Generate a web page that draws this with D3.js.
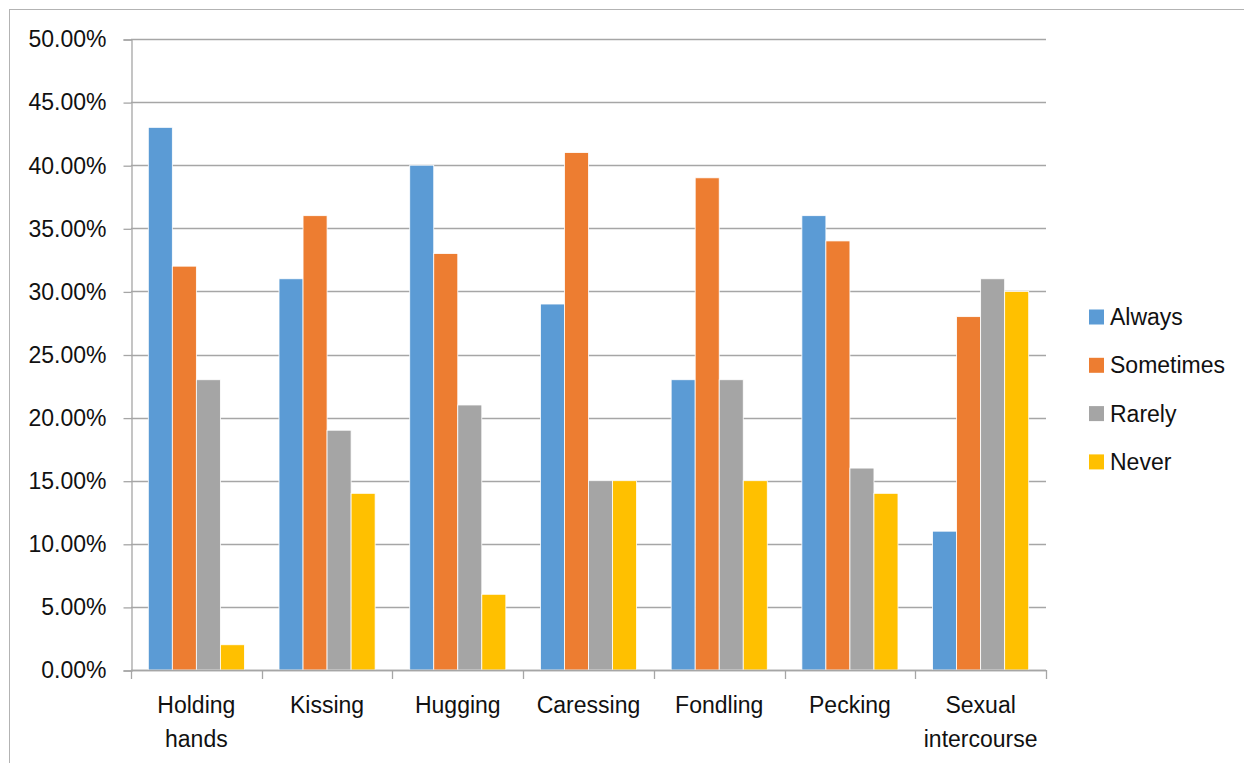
<!DOCTYPE html>
<html>
<head>
<meta charset="utf-8">
<script src="https://cdn.jsdelivr.net/npm/d3@7"></script>
<style>
  body { margin: 0; background: #fff; }
  text { font-family: "Liberation Sans", Arial, sans-serif; fill: #111; }
</style>
</head>
<body>
<svg id="chart"></svg>
<script>
const categories = ["Holding hands", "Kissing", "Hugging", "Caressing", "Fondling", "Pecking", "Sexual intercourse"];
const seriesNames = ["Always", "Sometimes", "Rarely", "Never"];
const always    = [0.43, 0.31, 0.40, 0.29, 0.23, 0.36, 0.11];
const sometimes = [0.32, 0.36, 0.33, 0.41, 0.39, 0.34, 0.28];
const rarely    = [0.23, 0.19, 0.21, 0.15, 0.23, 0.16, 0.31];
const never     = [0.02, 0.14, 0.06, 0.15, 0.15, 0.14, 0.30];
const yTicks = [0, 0.05, 0.10, 0.15, 0.20, 0.25, 0.30, 0.35, 0.40, 0.45, 0.50];
const colors = ["#5B9BD5", "#ED7D31", "#A5A5A5", "#FFC000"];

const seriesValues = [always, sometimes, rarely, never];
const width = 1244, height = 763;
const plot = {left: 131, right: 1046, top: 39, bottom: 670};

const svg = d3.select("#chart").attr("width", width).attr("height", height);

// outer chart border (only top/left are visible in the frame)
svg.append("rect")
    .attr("x", 9.5).attr("y", 9.5)
    .attr("width", 1300).attr("height", 800)
    .attr("fill", "none").attr("stroke", "#b3b3b3");

const x = d3.scaleBand().domain(categories).range([plot.left, plot.right]);
const x1 = d3.scaleBand().domain(seriesNames).range([0, x.bandwidth()]).paddingOuter(0.72);
const y = d3.scaleLinear().domain([0, 0.5]).range([plot.bottom, plot.top]);

// gridlines
svg.append("g").selectAll("line")
    .data(yTicks)
    .enter().append("line")
    .attr("x1", plot.left).attr("x2", plot.right)
    .attr("y1", d => Math.round(y(d)) + 0.5).attr("y2", d => Math.round(y(d)) + 0.5)
    .attr("stroke", "#a6a6a6").attr("stroke-width", 1.3);

// y axis
const yAxis = svg.append("g")
    .attr("transform", "translate(" + (plot.left + 0.5) + ",0.5)")
    .call(d3.axisLeft(y).tickValues(yTicks).tickFormat(d3.format(".2%")).tickSize(8).tickPadding(17));
yAxis.select(".domain").attr("stroke", "#a6a6a6").attr("stroke-width", 1.3);
yAxis.selectAll(".tick line").attr("stroke", "#a6a6a6").attr("stroke-width", 1.3);
yAxis.selectAll("text").style("font-size", "23px").attr("fill", "#111");

// bars
const rows = [];
categories.forEach((c, i) => {
  seriesNames.forEach((s, j) => {
    rows.push({cat: c, series: s, value: seriesValues[j][i], color: colors[j]});
  });
});
svg.append("g").selectAll("rect")
    .data(rows)
    .enter().append("rect")
    .attr("x", d => x(d.cat) + x1(d.series))
    .attr("y", d => y(d.value))
    .attr("width", x1.bandwidth())
    .attr("height", d => y(0) - y(d.value))
    .attr("fill", d => d.color)
    .attr("stroke", "#fff").attr("stroke-width", 0.8);

// x axis: ticks at category boundaries
const xAxis = svg.append("g");
xAxis.append("line")
    .attr("x1", plot.left).attr("x2", plot.right)
    .attr("y1", plot.bottom + 0.5).attr("y2", plot.bottom + 0.5)
    .attr("stroke", "#a6a6a6").attr("stroke-width", 1.3);
const bounds = categories.map(c => x(c)).concat([x.range()[1]]);
xAxis.selectAll(".bt")
    .data(bounds)
    .enter().append("line")
    .attr("x1", d => Math.round(d) + 0.5).attr("x2", d => Math.round(d) + 0.5)
    .attr("y1", plot.bottom).attr("y2", plot.bottom + 9)
    .attr("stroke", "#a6a6a6").attr("stroke-width", 1.3);

const labels = xAxis.selectAll(".lab")
    .data(categories)
    .enter().append("text")
    .attr("text-anchor", "middle")
    .attr("x", d => x(d) + x.bandwidth() / 2)
    .style("font-size", "23px");
labels.each(function(d) {
  const words = d.split(" ");
  const t = d3.select(this);
  words.forEach((w, k) => {
    t.append("tspan")
        .attr("x", x(d) + x.bandwidth() / 2)
        .attr("y", 713 + k * 34)
        .text(w);
  });
});

// legend
const legend = svg.append("g").selectAll("g")
    .data(seriesNames)
    .enter().append("g")
    .attr("transform", (d, i) => "translate(1089," + (317 + i * 48.3) + ")");
legend.append("rect")
    .attr("x", 0).attr("y", -7.5)
    .attr("width", 15).attr("height", 15)
    .attr("fill", (d, i) => colors[i]);
legend.append("text")
    .attr("x", 21).attr("y", 8)
    .style("font-size", "23px")
    .text(d => d);
</script>
</body>
</html>
